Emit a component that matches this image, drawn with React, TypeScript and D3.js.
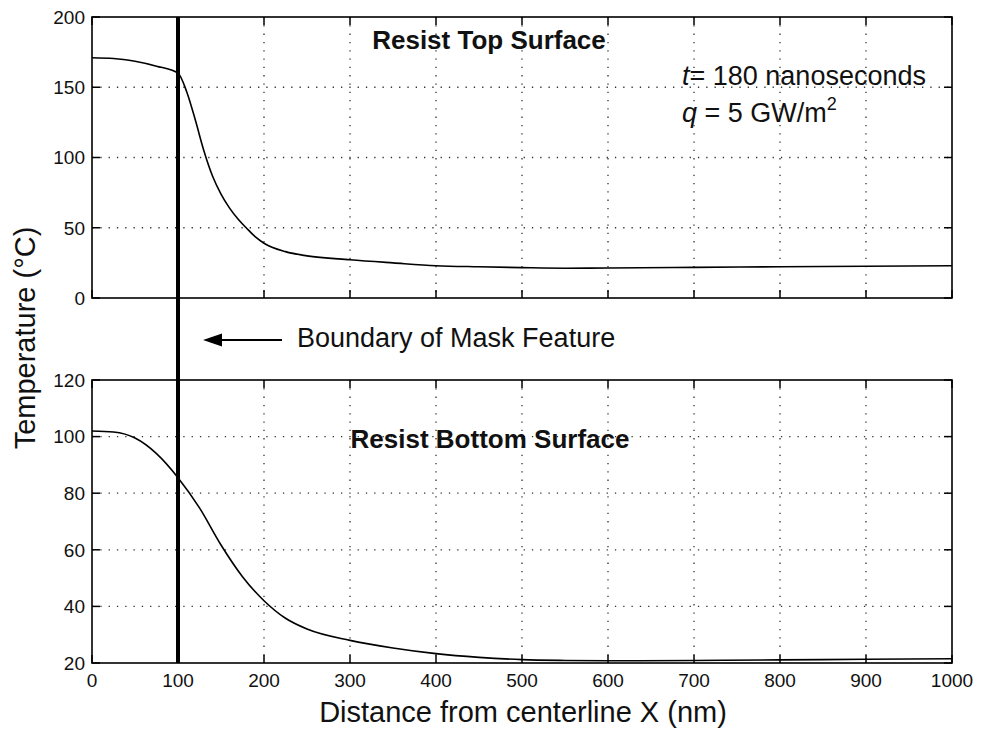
import React from "react";
import * as d3 from "d3";

// Temperature profiles along the resist (distance from centerline in nm, temperature in °C)
const xTop = [0, 25, 50, 75, 100, 110, 120, 130, 140, 150, 160, 170, 180, 190, 200, 225, 250, 300, 350, 400, 450, 500, 550, 600, 700, 800, 900, 1000];
const tempTop = [171, 170.5, 168.5, 165, 160, 147, 127, 105, 87, 74, 64, 56, 49.5, 43.5, 39, 33, 30, 27.2, 25, 23, 22.2, 21.6, 21.2, 21.3, 21.8, 22.2, 22.6, 23];

const xBottom = [0, 25, 50, 75, 100, 125, 150, 175, 200, 225, 250, 300, 350, 400, 450, 500, 550, 600, 700, 800, 900, 1000];
const tempBottom = [102, 101.6, 99.5, 94, 85.5, 74.8, 61.7, 50.5, 42, 35.8, 32, 28, 25.3, 23.3, 22, 21.2, 20.9, 20.8, 20.9, 21.1, 21.3, 21.5];

const xTicks = [0, 100, 200, 300, 400, 500, 600, 700, 800, 900, 1000];
const yTicksTop = [0, 50, 100, 150, 200];
const yTicksBottom = [20, 40, 60, 80, 100, 120];
const maskBoundary = 100;

const FONT = "'Liberation Sans', Arial, Helvetica, sans-serif";

const W = 982;
const H = 732;
const left = 92;
const right = 952;

const x = d3.scaleLinear().domain([0, 1000]).range([left, right]);
const yTop = d3.scaleLinear().domain([0, 200]).range([298, 17]);
const yBot = d3.scaleLinear().domain([20, 120]).range([663, 380]);

type PanelProps = {
  y: d3.ScaleLinear<number, number>;
  yTicks: number[];
  xs: number[];
  ys: number[];
  showXLabels: boolean;
};

function Panel({ y, yTicks, xs, ys, showXLabels }: PanelProps) {
  const [y0, y1] = y.range(); // bottom, top
  const tick = 8;
  const line = d3
    .line<number>()
    .x((_, i) => x(xs[i]))
    .y((d) => y(d))
    .curve(d3.curveMonotoneX);
  const innerX = xTicks.slice(1, -1);
  const innerY = yTicks.slice(1, -1);
  return (
    <g>
      {/* dotted grid */}
      {innerX.map((t) => (
        <line key={"gx" + t} x1={x(t)} x2={x(t)} y1={y1} y2={y0} stroke="#333" strokeWidth={1.3} strokeDasharray="1.3 7" />
      ))}
      {innerY.map((t) => (
        <line key={"gy" + t} x1={left} x2={right} y1={y(t)} y2={y(t)} stroke="#333" strokeWidth={1.3} strokeDasharray="1.3 7" />
      ))}
      {/* inward ticks on all four sides */}
      {xTicks.map((t) => (
        <g key={"tx" + t}>
          <line x1={x(t)} x2={x(t)} y1={y0} y2={y0 - tick} stroke="#000" strokeWidth={1.5} />
          <line x1={x(t)} x2={x(t)} y1={y1} y2={y1 + tick} stroke="#000" strokeWidth={1.5} />
        </g>
      ))}
      {yTicks.map((t) => (
        <g key={"ty" + t}>
          <line x1={left} x2={left + tick} y1={y(t)} y2={y(t)} stroke="#000" strokeWidth={1.5} />
          <line x1={right} x2={right - tick} y1={y(t)} y2={y(t)} stroke="#000" strokeWidth={1.5} />
          <text x={left - 7} y={y(t)} dy="0.36em" textAnchor="end" fontSize={19} fontFamily={FONT} fill="#111">
            {t}
          </text>
        </g>
      ))}
      {showXLabels &&
        xTicks.map((t) => (
          <text key={"lx" + t} x={x(t)} y={y0 + 24} textAnchor="middle" fontSize={19} fontFamily={FONT} fill="#111">
            {t}
          </text>
        ))}
      <rect x={left} y={y1} width={right - left} height={y0 - y1} fill="none" stroke="#000" strokeWidth={1.6} />
      <path d={line(ys) || ""} fill="none" stroke="#000" strokeWidth={1.6} />
    </g>
  );
}

export default function App() {
  const bx = x(maskBoundary);
  return (
    <svg width={W} height={H} style={{ position: "absolute", left: 0, top: 0, background: "#fff" }}>
      <rect width={W} height={H} fill="#fff" />
      <Panel y={yTop} yTicks={yTicksTop} xs={xTop} ys={tempTop} showXLabels={false} />
      <Panel y={yBot} yTicks={yTicksBottom} xs={xBottom} ys={tempBottom} showXLabels={true} />

      {/* mask feature boundary */}
      <line x1={bx} x2={bx} y1={yTop.range()[1]} y2={yBot.range()[0]} stroke="#000" strokeWidth={4} />

      {/* panel titles */}
      <text x={489} y={49} textAnchor="middle" fontSize={26} fontWeight="bold" fontFamily={FONT} fill="#111">
        Resist Top Surface
      </text>
      <text x={490} y={448} textAnchor="middle" fontSize={26} fontWeight="bold" fontFamily={FONT} fill="#111">
        Resist Bottom Surface
      </text>

      {/* conditions */}
      <text x={682} y={85} fontSize={27} fontFamily={FONT} fill="#111">
        <tspan fontStyle="italic">t</tspan>
        <tspan>= 180 nanoseconds</tspan>
      </text>
      <text x={682} y={122} fontSize={27} fontFamily={FONT} fill="#111">
        <tspan fontStyle="italic">q</tspan>
        <tspan> = 5 GW/m</tspan>
        <tspan fontSize={18} dy={-12}>2</tspan>
      </text>

      {/* boundary annotation */}
      <line x1={282} x2={215} y1={340} y2={340} stroke="#000" strokeWidth={2} />
      <path d="M203,340 L222,333.5 L222,346.5 Z" fill="#000" />
      <text x={297} y={347} fontSize={27} fontFamily={FONT} fill="#111">
        Boundary of Mask Feature
      </text>

      {/* axis titles */}
      <text x={523} y={722} textAnchor="middle" fontSize={29} fontFamily={FONT} fill="#111">
        Distance from centerline X (nm)
      </text>
      <text transform="translate(35,338) rotate(-90)" textAnchor="middle" fontSize={29} fontFamily={FONT} fill="#111">
        Temperature (°C)
      </text>
    </svg>
  );
}
